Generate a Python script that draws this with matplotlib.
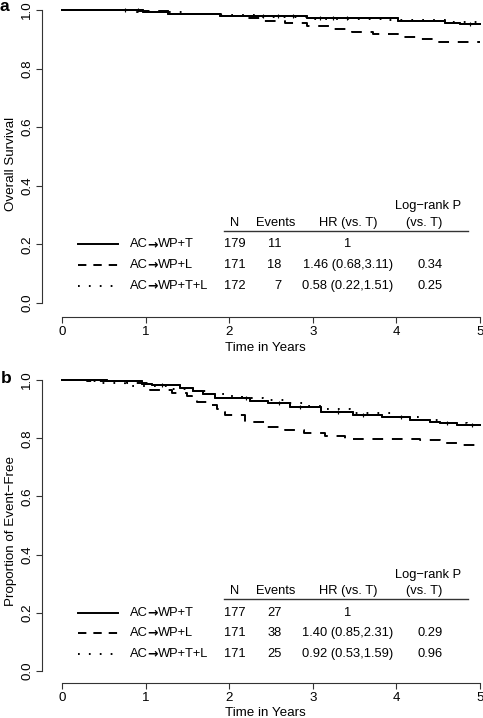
import numpy as np
import matplotlib.pyplot as plt

plt.rcParams['font.family'] = ['Liberation Sans', 'DejaVu Sans']
plt.rcParams['font.size'] = 9.3

# ---- panel a: overall survival (drop times in years, survival after each drop)
a_T_times = [0.97, 1.27, 1.89, 2.93, 4.02, 4.58, 4.76]
a_T_surv = [0.994, 0.986, 0.980, 0.972, 0.963, 0.955, 0.951]
a_L_times = [0.9, 1.3, 1.9, 2.17, 2.4, 2.67, 2.93, 3.2, 3.47, 3.72, 4.02, 4.28, 4.5]
a_L_surv = [0.995, 0.988, 0.980, 0.972, 0.962, 0.955, 0.944, 0.936, 0.926, 0.918, 0.909, 0.900, 0.892]
a_TL_times = [0.8, 1.5, 1.9, 2.4, 3.0, 3.9, 4.6]
a_TL_surv = [0.994, 0.988, 0.982, 0.976, 0.970, 0.965, 0.960]
a_T_cens = [0.75, 0.91, 2.4, 2.58, 2.76, 3.09, 3.24, 3.41, 4.88]

# ---- panel b: event-free
b_T_times = [0.54, 0.96, 1.08, 1.41, 1.57, 1.69, 1.83, 2.25, 2.46, 2.73, 3.1,
             3.48, 3.83, 4.16, 4.40, 4.52, 4.72]
b_T_surv = [0.997, 0.986, 0.983, 0.971, 0.963, 0.952, 0.937, 0.929, 0.922, 0.906,
            0.891, 0.879, 0.873, 0.864, 0.856, 0.851, 0.847]
b_L_times = [0.3, 0.78, 1.05, 1.32, 1.5, 1.56, 1.62, 1.77, 1.85, 1.9, 1.95, 2.19,
             2.43, 2.67, 2.9, 3.15, 3.39, 4.28, 4.52, 4.78]
b_L_surv = [0.997, 0.988, 0.966, 0.955, 0.945, 0.935, 0.925, 0.914, 0.900, 0.890,
            0.879, 0.856, 0.839, 0.828, 0.818, 0.807, 0.799, 0.793, 0.784, 0.776]
b_TL_times = [0.3, 0.48, 0.75, 1.3, 1.55, 1.75, 1.95, 2.15, 2.4, 2.7, 2.9, 3.1,
              3.45, 3.95, 4.3, 4.55, 4.85]
b_TL_surv = [0.995, 0.988, 0.978, 0.970, 0.962, 0.952, 0.945, 0.938, 0.931, 0.921,
             0.911, 0.900, 0.887, 0.873, 0.864, 0.852, 0.845]
b_T_cens = [1.2, 2.2, 2.6, 2.85, 3.3, 3.6, 4.05, 4.6, 4.9]

arms = ['AC\u2192WP+T', 'AC\u2192WP+L', 'AC\u2192WP+T+L']
a_N = [179, 171, 172]
a_events = [11, 18, 7]
a_hr = ['1', '1.46 (0.68,3.11)', '0.58 (0.22,1.51)']
a_p = ['', '0.34', '0.25']
b_N = [177, 171, 171]
b_events = [27, 38, 25]
b_hr = ['1', '1.40 (0.85,2.31)', '0.92 (0.53,1.59)']
b_p = ['', '0.29', '0.96']

styles = ['-', (0, (5.5, 4.5)), (0, (0.9, 4.7))]
leg_styles = ['-', (0, (4.3, 3.6)), (0, (0.9, 4.7))]


def km(ax, times, surv, ls, cens=None):
    t = [0] + list(times) + [5]
    s = [1.0] + list(surv) + [surv[-1]]
    ax.step(t, s, where='post', color='black', lw=1.4, linestyle=ls, clip_on=False)
    if cens:
        idx = np.searchsorted(t, cens, side='right') - 1
        ax.plot(cens, np.array(s)[idx], ls='none', marker='+', ms=3.5, mew=0.8,
                color='black', clip_on=False)


def arm_label(ax, x, y, label):
    # arrow drawn in DejaVu Sans Bold (heavier glyph), letters in Liberation Sans
    left, right = label.split('\u2192')
    t1 = ax.text(x, y, left, ha='left', va='center')
    t2 = ax.annotate('\u2192', xy=(1, 0.5), xycoords=t1, ha='left', va='center',
                     family='DejaVu Sans', fontweight='bold', fontsize=9)
    ax.annotate(right, xy=(1, 0.5), xycoords=t2, ha='left', va='center')


def panel(ax, curves, cens, N, events, hr, p, ylabel):
    for (tt, ss), ls in zip(curves, styles):
        km(ax, tt, ss, ls)
    km(ax, curves[0][0], curves[0][1], '-', cens)
    ax.set_xlim(-0.239, 5.0)
    for s in ['top', 'right']:
        ax.spines[s].set_visible(False)
    for s in ['left', 'bottom']:
        ax.spines[s].set_color('#333333')
        ax.spines[s].set_linewidth(0.8)
    ax.spines['left'].set_bounds(0, 1)
    ax.spines['bottom'].set_bounds(0, 5)
    ax.set_xticks(range(6))
    ax.set_yticks([0, 0.2, 0.4, 0.6, 0.8, 1.0])
    ax.set_yticklabels(['0.0', '0.2', '0.4', '0.6', '0.8', '1.0'], rotation=90, va='center')
    ax.tick_params(direction='out', length=4.3, width=0.8, color='#333333', pad=2,
                   labelsize=9.6)
    ax.set_xlabel('Time in Years', fontsize=9.6)
    ax.xaxis.set_label_coords(0.511, -0.08)
    ax.set_ylabel(ylabel, fontsize=9.6)
    ax.yaxis.set_label_coords(-0.057, 0.5)

    # table / legend
    ax.text(4.38, 0.33, 'Log\u2212rank P', ha='center', va='center')
    hy = 0.274
    ax.text(2.07, hy, 'N', ha='center', va='center')
    ax.text(2.56, hy, 'Events', ha='center', va='center')
    ax.text(3.42, hy, 'HR (vs. T)', ha='center', va='center')
    ax.text(4.33, hy, '(vs. T)', ha='center', va='center')
    ax.plot([1.94, 4.86], [0.246, 0.246], color='#333333', lw=1.0)
    rows = [0.2, 0.13, 0.058]
    for i, ry in enumerate(rows):
        ax.plot([0.19, 0.67], [ry, ry], color='black', lw=1.4, linestyle=leg_styles[i])
        arm_label(ax, 0.81, ry, arms[i])
        ax.text(2.07, ry, str(N[i]), ha='center', va='center')
        ax.text(2.63, ry, str(events[i]), ha='right', va='center')
        ax.text(3.42, ry, hr[i], ha='center', va='center')
        ax.text(4.40, ry, p[i], ha='center', va='center')


fig = plt.figure(figsize=(4.83, 7.18), dpi=100)
W, H = 483.0, 718.0
ax1 = fig.add_axes([42 / W, (H - 317) / H, 438 / W, 307 / H])
ax1.set_ylim(-0.048, 1.0)
ax2 = fig.add_axes([42 / W, (H - 683) / H, 438 / W, 303 / H])
ax2.set_ylim(-0.041, 1.0)

panel(ax1, [(a_T_times, a_T_surv), (a_L_times, a_L_surv), (a_TL_times, a_TL_surv)],
      a_T_cens, a_N, a_events, a_hr, a_p, 'Overall Survival')
panel(ax2, [(b_T_times, b_T_surv), (b_L_times, b_L_surv), (b_TL_times, b_TL_surv)],
      b_T_cens, b_N, b_events, b_hr, b_p, 'Proportion of Event\u2212Free')

fig.text(-1 / W, 1 - 11 / H, 'a', fontsize=12.5, fontweight='bold', ha='left', va='baseline')
fig.text(1 / W, 1 - 383 / H, 'b', fontsize=12.5, fontweight='bold', ha='left', va='baseline')

fig.savefig('out.png', dpi=100)
